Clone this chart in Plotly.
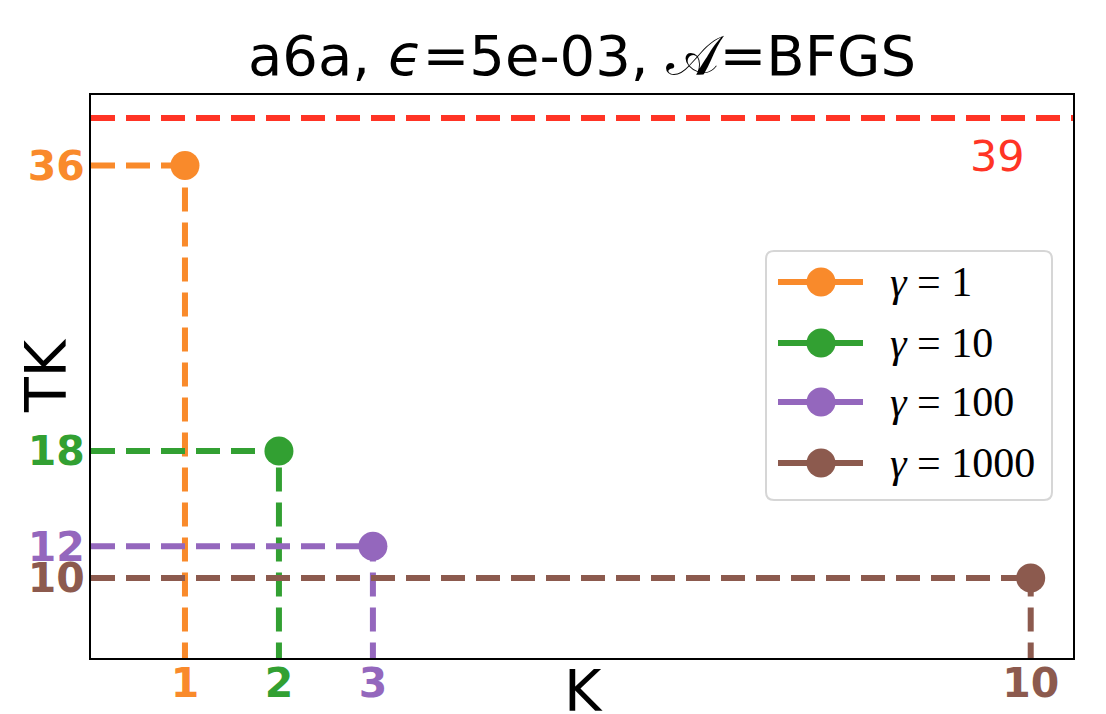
import plotly.graph_objects as go

# ---- data ----
K_values = [1, 2, 3, 10]
TK_values = [36, 18, 12, 10]
gamma_labels = ["1", "10", "100", "1000"]
series_colors = ["#F98A2B", "#32A032", "#9467BD", "#8C5A4E"]
reference_TK = 39
reference_color = "#FF3425"
title_text = "a6a, <i>ϵ</i>=5e-03, 𝒜=BFGS"
x_label = "K"
y_label = "TK"

x_range = [0.0, 10.45]
y_range = [4.95, 40.45]

# ---- geometry (pixels) ----
W, H = 1106, 714
L, R, T, B = 91, 33, 95, 56
PW, PH = W - L - R, H - T - B


def px(x):
    return (x - L) / PW


def py(y):
    return (H - B - y) / PH


DASH = "24px,11px"
LW = 6
FONT = "DejaVu Sans"

fig = go.Figure()

# reference line
fig.add_trace(go.Scatter(x=[x_range[0], x_range[1]], y=[reference_TK, reference_TK], mode="lines",
                         line=dict(color=reference_color, width=LW, dash=DASH),
                         showlegend=False, hoverinfo="skip"))

for k, tk, g, c in zip(K_values, TK_values, gamma_labels, series_colors):
    fig.add_trace(go.Scatter(x=[0, k], y=[tk, tk], mode="lines",
                             line=dict(color=c, width=LW, dash=DASH),
                             showlegend=False, hoverinfo="skip"))
    fig.add_trace(go.Scatter(x=[k, k], y=[0, tk], mode="lines",
                             line=dict(color=c, width=LW, dash=DASH),
                             showlegend=False, hoverinfo="skip"))
for k, tk, g, c in zip(K_values, TK_values, gamma_labels, series_colors):
    fig.add_trace(go.Scatter(x=[k], y=[tk], mode="lines+markers", name="γ = " + g,
                             marker=dict(color=c, size=29), line=dict(color=c, width=LW),
                             showlegend=False))

# reference value label
fig.add_annotation(x=9.65, y=36.6, xref="x", yref="y", text=str(reference_TK), showarrow=False,
                   font=dict(family=FONT, size=43, color=reference_color), xanchor="center", yanchor="middle")

# axis titles
fig.add_annotation(x=px(46), y=py(376), xref="paper", yref="paper", text=y_label, textangle=-90,
                   showarrow=False, font=dict(family=FONT, size=57, color="black"),
                   xanchor="center", yanchor="middle")
fig.add_annotation(x=px(583), y=py(656), xref="paper", yref="paper", text=x_label,
                   showarrow=False, font=dict(family=FONT, size=57, color="black"),
                   xanchor="center", yanchor="top")

# ---- custom legend ----
bx0, bx1, by0, by1 = px(766), px(1052), py(500), py(251)
rx, ry = 8 / PW, 8 / PH
path = (f"M {bx0+rx},{by0} L {bx1-rx},{by0} Q {bx1},{by0} {bx1},{by0+ry} "
        f"L {bx1},{by1-ry} Q {bx1},{by1} {bx1-rx},{by1} L {bx0+rx},{by1} "
        f"Q {bx0},{by1} {bx0},{by1-ry} L {bx0},{by0+ry} Q {bx0},{by0} {bx0+rx},{by0} Z")
shapes = [dict(type="path", path=path, xref="paper", yref="paper",
               line=dict(color="#D6D6D6", width=2), fillcolor="rgba(255,255,255,0.85)", layer="above")]
row_y = [282, 343, 402, 463]
for ry_px, g, c in zip(row_y, gamma_labels, series_colors):
    yy = py(ry_px)
    shapes.append(dict(type="line", xref="paper", yref="paper", x0=px(778), x1=px(863), y0=yy, y1=yy,
                       line=dict(color=c, width=LW), layer="above"))
    shapes.append(dict(type="circle", xref="paper", yref="paper", xsizemode="pixel", ysizemode="pixel",
                       xanchor=px(821), yanchor=yy, x0=-14.5, x1=14.5, y0=-14.5, y1=14.5,
                       fillcolor=c, line=dict(color=c, width=0), layer="above"))
    fig.add_annotation(x=px(888), y=yy, xref="paper", yref="paper", text="<i>γ</i> = " + g,
                       showarrow=False, font=dict(family="Liberation Serif", size=42, color="black"),
                       xanchor="left", yanchor="middle")


def colored(v, c):
    return f'<span style="color:{c}"><b>{v}</b></span>'


fig.update_layout(
    width=W, height=H,
    margin=dict(l=L, r=R, t=T, b=B, autoexpand=False),
    plot_bgcolor="white", paper_bgcolor="white",
    font=dict(family=FONT, color="black"),
    showlegend=False,
    shapes=shapes,
    title=dict(text=title_text, x=0.5, xref="paper", xanchor="center", y=1, yref="paper",
               yanchor="bottom", pad=dict(b=20), font=dict(family=FONT, size=56, color="black")),
    xaxis=dict(range=x_range, showgrid=False, zeroline=False, showline=True, linecolor="black",
               linewidth=2, mirror=True, ticks="", tickmode="array", tickvals=K_values,
               ticktext=[colored(k, c) for k, c in zip(K_values, series_colors)],
               ticklabelstandoff=-12,
               tickfont=dict(family=FONT, size=41)),
    yaxis=dict(range=y_range, showgrid=False, zeroline=False, showline=True, linecolor="black",
               linewidth=2, mirror=True, ticks="", tickmode="array", tickvals=TK_values,
               ticktext=[colored(t, c) for t, c in zip(TK_values, series_colors)],
               ticklabelstandoff=-4,
               tickfont=dict(family=FONT, size=41)),
)

fig.write_html("out.html")
